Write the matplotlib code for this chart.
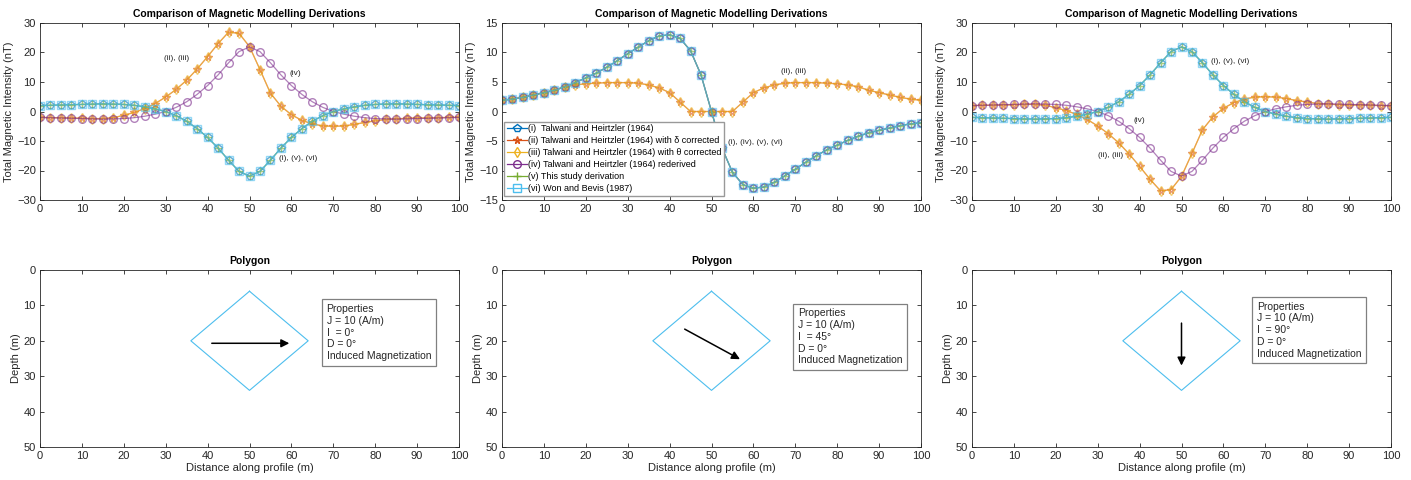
import numpy as np
import matplotlib
matplotlib.use('Agg')
import matplotlib.pyplot as plt

plt.rcParams['font.family'] = ['Liberation Sans', 'DejaVu Sans']

# profile stations (m)
x = np.arange(0, 100.1, 2.5)

# I = 0 deg
p1_cyan = [2.0, 2.1, 2.2, 2.3, 2.4, 2.5, 2.6, 2.5, 2.4, 2.1, 1.6, 0.9, 0.0, -1.4, -3.3, -5.8, -8.8, -12.4, -16.5, -20.3,
           -21.9, -20.3, -16.5, -12.4, -8.8, -5.8, -3.3, -1.4, 0.0, 0.9, 1.6, 2.1, 2.4, 2.5, 2.6, 2.5, 2.4, 2.3, 2.2, 2.1, 2.0]
p1_orange = [-2.0, -2.1, -2.1, -2.2, -2.3, -2.4, -2.4, -2.1, -1.3, -0.3, 1.0, 2.7, 4.9, 7.5, 10.6, 14.4, 18.6, 23.0, 26.9, 26.5,
             22.0, 14.2, 6.2, 1.8, -1.1, -3.0, -4.2, -4.9, -5.0, -4.9, -4.4, -3.7, -3.2, -2.7, -2.5, -2.3, -2.2, -2.2, -2.1, -2.0, -2.0]
p1_purple = [-2.0, -2.1, -2.2, -2.3, -2.4, -2.5, -2.6, -2.5, -2.4, -2.1, -1.6, -0.9, 0.0, 1.4, 3.3, 5.8, 8.8, 12.4, 16.5, 20.3,
             21.9, 20.3, 16.5, 12.4, 8.8, 5.8, 3.3, 1.4, 0.0, -0.9, -1.6, -2.1, -2.4, -2.5, -2.6, -2.5, -2.4, -2.3, -2.2, -2.1, -2.0]

# I = 45 deg
p2_cyan = [1.9, 2.1, 2.4, 2.8, 3.2, 3.6, 4.2, 4.9, 5.7, 6.5, 7.5, 8.6, 9.8, 10.9, 12.0, 12.8, 13.0, 12.4, 10.3, 6.2,
           0.0, -6.2, -10.3, -12.4, -13.0, -12.8, -12.0, -10.9, -9.8, -8.6, -7.5, -6.5, -5.7, -4.9, -4.2, -3.6, -3.2, -2.8, -2.4, -2.1, -1.9]
p2_orange = [1.9, 2.1, 2.4, 2.8, 3.2, 3.6, 4.2, 4.5, 4.7, 4.8, 4.9, 4.9, 4.9, 4.8, 4.5, 4.0, 3.2, 1.6, 0.0, 0.0,
             0.0, 0.0, 0.0, 1.6, 3.2, 4.0, 4.5, 4.8, 4.9, 4.9, 4.9, 4.8, 4.7, 4.5, 4.2, 3.6, 3.2, 2.8, 2.4, 2.1, 1.9]

# I = 90 deg
p3_cyan = [-2.0, -2.1, -2.2, -2.3, -2.4, -2.5, -2.6, -2.5, -2.4, -2.1, -1.6, -0.9, 0.0, 1.4, 3.3, 5.8, 8.8, 12.4, 16.5, 20.3,
           21.9, 20.3, 16.5, 12.4, 8.8, 5.8, 3.3, 1.4, 0.0, -0.9, -1.6, -2.1, -2.4, -2.5, -2.6, -2.5, -2.4, -2.3, -2.2, -2.1, -2.0]
p3_orange = [2.0, 2.1, 2.1, 2.2, 2.3, 2.4, 2.4, 2.1, 1.3, 0.3, -1.0, -2.7, -4.9, -7.5, -10.6, -14.4, -18.6, -23.0, -26.9, -26.5,
             -22.0, -14.2, -6.2, -1.8, 1.1, 3.0, 4.2, 4.9, 5.0, 4.9, 4.4, 3.7, 3.2, 2.7, 2.5, 2.3, 2.2, 2.2, 2.1, 2.0, 2.0]
p3_purple = [2.0, 2.1, 2.2, 2.3, 2.4, 2.5, 2.6, 2.5, 2.4, 2.1, 1.6, 0.9, 0.0, -1.4, -3.3, -5.8, -8.8, -12.4, -16.5, -20.3,
             -21.9, -20.3, -16.5, -12.4, -8.8, -5.8, -3.3, -1.4, 0.0, 0.9, 1.6, 2.1, 2.4, 2.5, 2.6, 2.5, 2.4, 2.3, 2.2, 2.1, 2.0]

labels = ['(i)  Talwani and Heirtzler (1964)',
          '(ii) Talwani and Heirtzler (1964) with δ corrected',
          '(iii) Talwani and Heirtzler (1964) with θ corrected',
          '(iv) Talwani and Heirtzler (1964) rederived',
          '(v) This study derivation',
          '(vi) Won and Bevis (1987)']
colors = ['#0072BD', '#D95319', '#EDB120', '#7E2F8E', '#77AC30', '#4DBEEE']
markers = ['p', '*', 'd', 'o', '+', 's']

# polygon body and magnetisation vectors
poly_x = [50, 64, 50, 36, 50]
poly_z = [6, 20, 34, 20, 6]
arrow_start = [(41, 20.7), (43.6, 16.7), (50, 15)]
arrow_end = [(59.5, 20.7), (56.8, 25.2), (50, 27)]
incl = ['0', '45', '90']

panels = [
    [p1_cyan, p1_orange, p1_orange, p1_purple, p1_cyan, p1_cyan],
    [p2_cyan, p2_orange, p2_orange, p2_cyan, p2_cyan, p2_cyan],
    [p3_cyan, p3_orange, p3_orange, p3_purple, p3_cyan, p3_cyan],
]
ylims = [(-30, 30), (-15, 15), (-30, 30)]
yticks = [np.arange(-30, 31, 10), np.arange(-15, 16, 5), np.arange(-30, 31, 10)]

notes = [
    [((32.5, 18.0), '(ii), (iii)', 'center'), ((61, 13.0), '(iv)', 'center'), ((57, -16.0), '(i), (v), (vi)', 'left')],
    [((69.5, 6.7), '(ii), (iii)', 'center'), ((54, -5.3), '(i), (iv), (v), (vi)', 'left')],
    [((57, 16.9), '(i), (v), (vi)', 'left'), ((40, -3.2), '(iv)', 'center'), ((33, -15.0), '(ii), (iii)', 'center')],
]
box_txt_pos = [(68.4, 9.6), (70.6, 10.8), (68.0, 8.9)]

dark = '#262626'
lefts = [40 / 1411, 502 / 1411, 972 / 1411]
w = 419 / 1411
h = 177 / 480

fig = plt.figure(figsize=(14.11, 4.8), dpi=100)


def style(ax):
    for s in ax.spines.values():
        s.set_linewidth(0.6)
        s.set_color(dark)
    ax.tick_params(direction='in', length=3, width=0.6, top=True, right=True,
                   labelsize=8, colors=dark, pad=3)


for k in range(3):
    ax = fig.add_axes([lefts[k], 1 - 200 / 480, w, h])
    for j in range(6):
        ax.plot(x, panels[k][j], color=colors[j], marker=markers[j], lw=0.9, ms=5.5,
                mfc='none', mew=1.0, alpha=0.6, label=labels[j])
    ax.set_xlim(0, 100)
    ax.set_ylim(*ylims[k])
    ax.set_xticks(np.arange(0, 101, 10))
    ax.set_yticks(yticks[k])
    ax.set_title('Comparison of Magnetic Modelling Derivations', fontsize=7.5,
                 fontweight='bold', pad=4)
    ax.set_ylabel('Total Magnetic Intensity (nT)', fontsize=8, color=dark, labelpad=2)
    for (px, py), t, ha in notes[k]:
        ax.text(px, py, t, fontsize=6, ha=ha, va='center', color=dark)
    style(ax)
    if k == 1:
        leg = ax.legend(loc='lower left', bbox_to_anchor=(0.005, 0.025), borderaxespad=0,
                        fontsize=6.5, fancybox=False, framealpha=1, edgecolor='0.6',
                        handlelength=2.2, handletextpad=0.1, labelspacing=0.32,
                        borderpad=0.3)
        leg.get_frame().set_linewidth(1.0)
        for hd in leg.legend_handles:
            hd.set_alpha(1)

    bx = fig.add_axes([lefts[k], 1 - 447 / 480, w, h])
    bx.plot(poly_x, poly_z, color='#4DBEEE', lw=0.8)
    bx.annotate('', xy=arrow_end[k], xytext=arrow_start[k],
                arrowprops=dict(arrowstyle='-|>', color='black', lw=1.1,
                                mutation_scale=12, shrinkA=0, shrinkB=0))
    bx.text(box_txt_pos[k][0], box_txt_pos[k][1],
            'Properties\nJ = 10 (A/m)\nI  = ' + incl[k] + '°\nD = 0°\nInduced Magnetization',
            fontsize=7.5, ha='left', va='top', color=dark, linespacing=1.22,
            bbox=dict(boxstyle='square,pad=0.45', fc='white', ec='0.5', lw=0.9))
    bx.set_xlim(0, 100)
    bx.set_ylim(50, 0)
    bx.set_xticks(np.arange(0, 101, 10))
    bx.set_yticks(np.arange(0, 51, 10))
    bx.set_title('Polygon', fontsize=7.5, fontweight='bold', pad=4)
    bx.set_ylabel('Depth (m)', fontsize=8, color=dark, labelpad=2)
    bx.set_xlabel('Distance along profile (m)', fontsize=8, color=dark, labelpad=1)
    style(bx)

fig.savefig('out.png', dpi=100)
